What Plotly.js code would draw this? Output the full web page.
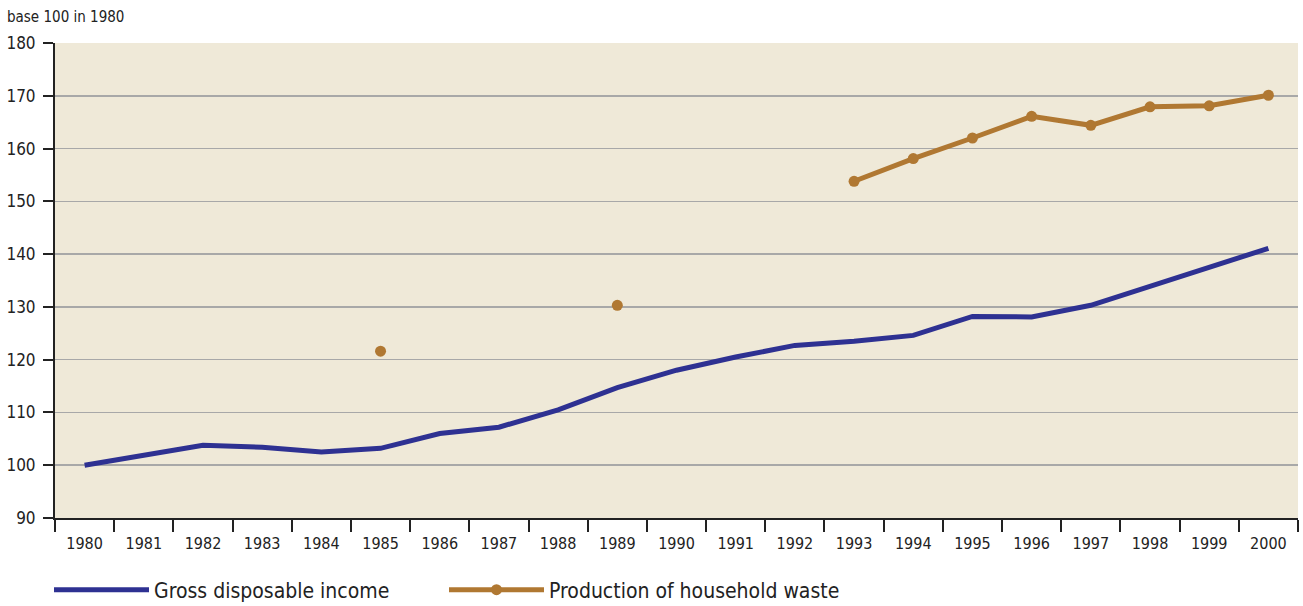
<!DOCTYPE html>
<html><head><meta charset="utf-8">
<script src="https://cdn.plot.ly/plotly-3.0.1.min.js"></script>
<style>html,body{margin:0;padding:0;background:#fff}#chart{width:1303px;height:606px}</style>
</head><body><div id="chart"></div>
<script>
const years = ['1980','1981','1982','1983','1984','1985','1986','1987','1988','1989','1990','1991','1992','1993','1994','1995','1996','1997','1998','1999','2000'];
const grossDisposableIncome = [100,101.9,103.8,103.4,102.5,103.2,106.0,107.2,110.5,114.7,118.0,120.5,122.7,123.5,124.6,128.2,128.1,130.3,133.9,137.3,141.1];
const householdWaste = [null,null,null,null,null,121.6,null,null,null,130.3,null,null,null,153.8,158.1,162.0,166.1,164.4,167.9,168.1,170.1];
const yTicks = [90,100,110,120,130,140,150,160,170,180];

const FONT = '"DejaVu Sans Condensed", "Liberation Sans Narrow", "Open Sans", sans-serif';

const traces = [
  {type:'scatter', mode:'lines', name:'Gross disposable income', x:years, y:grossDisposableIncome,
   line:{color:'#2E3192', width:5}, legend:'legend'},
  {type:'scatter', mode:'lines+markers', name:'Production of household waste', x:years, y:householdWaste,
   connectgaps:false, line:{color:'#B07832', width:5}, marker:{color:'#B07832', size:11}, legend:'legend2'}
];

const legendCommon = {orientation:'h', xanchor:'left', xref:'paper', y:16/606, yref:'container', yanchor:'middle',
  itemwidth:95, bgcolor:'rgba(0,0,0,0)', font:{family:FONT, size:21, color:'#222'}};

const layout = {
  width:1303, height:606,
  margin:{l:55, r:5, t:43, b:88},
  paper_bgcolor:'#ffffff', plot_bgcolor:'#EFE9D8',
  font:{family:FONT, size:15, color:'#222'},
  showlegend:true,
  title:{text:'base 100 in 1980', x:7/1303, xanchor:'left', xref:'container', y:1-17/606, yanchor:'middle', yref:'container',
         font:{family:FONT, size:15, color:'#222'}},
  xaxis:{type:'category', range:[-0.5,20.5], tickson:'boundaries', ticks:'outside', ticklen:12, tickwidth:2, tickcolor:'#222',
         showline:true, linecolor:'#222', linewidth:2, showgrid:false, zeroline:false, fixedrange:true,
         ticklabelstandoff:10,
         tickfont:{family:FONT, size:16, color:'#222'}},
  yaxis:{range:[90,180], tickvals:yTicks, ticktext:yTicks.map(String), ticks:'outside', ticklen:10, tickwidth:2, tickcolor:'#222',
         showline:true, linecolor:'#222', linewidth:2, showgrid:true, gridcolor:'#A8A8A8', gridwidth:1.5, zeroline:false,
         ticklabelstandoff:4,
         tickfont:{family:FONT, size:17, color:'#222'}, fixedrange:true},
  legend:Object.assign({}, legendCommon, {x:-6/1243}),
  legend2:Object.assign({}, legendCommon, {x:389/1243})
};
Plotly.newPlot('chart', traces, layout, {displayModeBar:false, staticPlot:true});
</script></body></html>
